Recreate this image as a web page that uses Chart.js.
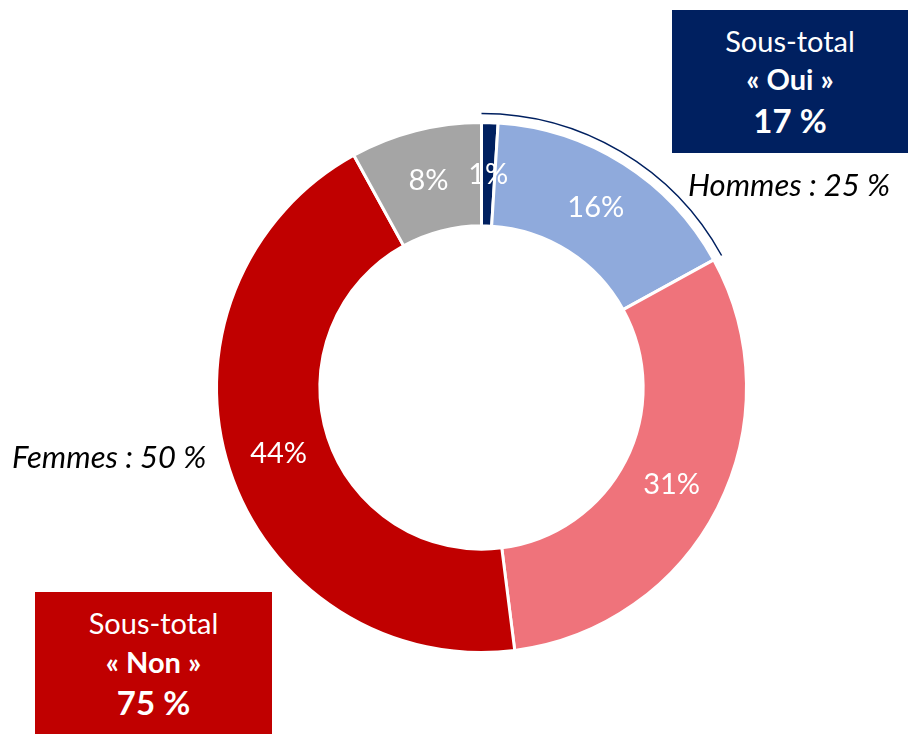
<!DOCTYPE html>
<html>
<head>
<meta charset="utf-8">
<script src="https://cdn.jsdelivr.net/npm/chart.js@4/dist/chart.umd.min.js"></script>
<style>
  body { margin: 0; background: #fff; font-family: Lato, sans-serif; }
  #wrap { position: relative; width: 908px; height: 734px; overflow: hidden; }
  #wrap canvas { position: absolute; left: 0; top: 0; }
  .box { position: absolute; color: #fff; }
  .box div { position: absolute; left: 0; width: 100%; text-align: center; height: 40px; line-height: 40px; white-space: nowrap; }
  .note { position: absolute; font-style: italic; color: #000; font-size: 31px; height: 40px; line-height: 40px; white-space: nowrap; }
</style>
</head>
<body>
<div id="wrap">
  <canvas id="pie" width="908" height="734"></canvas>
  <div class="box" style="left:672px;top:10px;width:236px;height:143px;background:#002060;">
    <div style="top:11px;font-size:29px;">Sous-total</div>
    <div style="top:49px;font-size:29px;font-weight:bold;">« Oui »</div>
    <div style="top:90px;font-size:33px;font-weight:bold;">17 %</div>
  </div>
  <div class="box" style="left:35px;top:592px;width:237px;height:142px;background:#C00000;">
    <div style="top:11px;font-size:29px;">Sous-total</div>
    <div style="top:50px;font-size:29px;font-weight:bold;">« Non »</div>
    <div style="top:90px;font-size:33px;font-weight:bold;">75 %</div>
  </div>
  <div class="note" style="left:688px;top:164px;">Hommes : 25 %</div>
  <div class="note" style="left:12px;top:436px;">Femmes : 50 %</div>
</div>
<script>
// réponses (en %), dans l'ordre depuis midi, sens horaire
const categories = ['Oui, tout à fait', 'Oui, plutôt', 'Non, plutôt pas', 'Non, pas du tout', 'Ne se prononce pas'];
const values = [1, 16, 31, 44, 8];
const colors = ['#002060', '#8FAADC', '#EF737B', '#C00000', '#A5A5A5'];
const ouiSlices = [0, 1]; // parts couvertes par l'arc « Hommes »

const sliceLabels = {
  id: 'sliceLabels',
  afterDatasetsDraw(chart) {
    const ctx = chart.ctx;
    const meta = chart.getDatasetMeta(0);
    ctx.save();
    ctx.fillStyle = '#fff';
    ctx.font = '29px Lato, sans-serif';
    ctx.textAlign = 'center';
    ctx.textBaseline = 'middle';
    meta.data.forEach((arc, i) => {
      const p = arc.tooltipPosition();
      ctx.fillText(values[i] + '%', p.x, p.y);
    });
    ctx.restore();
  }
};

const outerArc = {
  id: 'outerArc',
  afterDatasetsDraw(chart) {
    const ctx = chart.ctx;
    const meta = chart.getDatasetMeta(0);
    const first = meta.data[ouiSlices[0]];
    const last = meta.data[ouiSlices[ouiSlices.length - 1]];
    ctx.save();
    ctx.strokeStyle = '#002060';
    ctx.lineWidth = 1.5;
    ctx.beginPath();
    ctx.arc(first.x, first.y, first.outerRadius + 9, first.startAngle, last.endAngle);
    ctx.stroke();
    ctx.restore();
  }
};

new Chart(document.getElementById('pie'), {
  type: 'doughnut',
  data: {
    labels: categories,
    datasets: [{
      data: values,
      backgroundColor: colors,
      borderColor: '#fff',
      borderWidth: 3
    }]
  },
  options: {
    responsive: false,
    animation: false,
    devicePixelRatio: 1,
    cutout: '61%',
    layout: { padding: { left: 215, right: 160, top: 121, bottom: 80 } },
    plugins: {
      legend: { display: false },
      tooltip: { enabled: false }
    },
    events: []
  },
  plugins: [sliceLabels, outerArc]
});
</script>
</body>
</html>
